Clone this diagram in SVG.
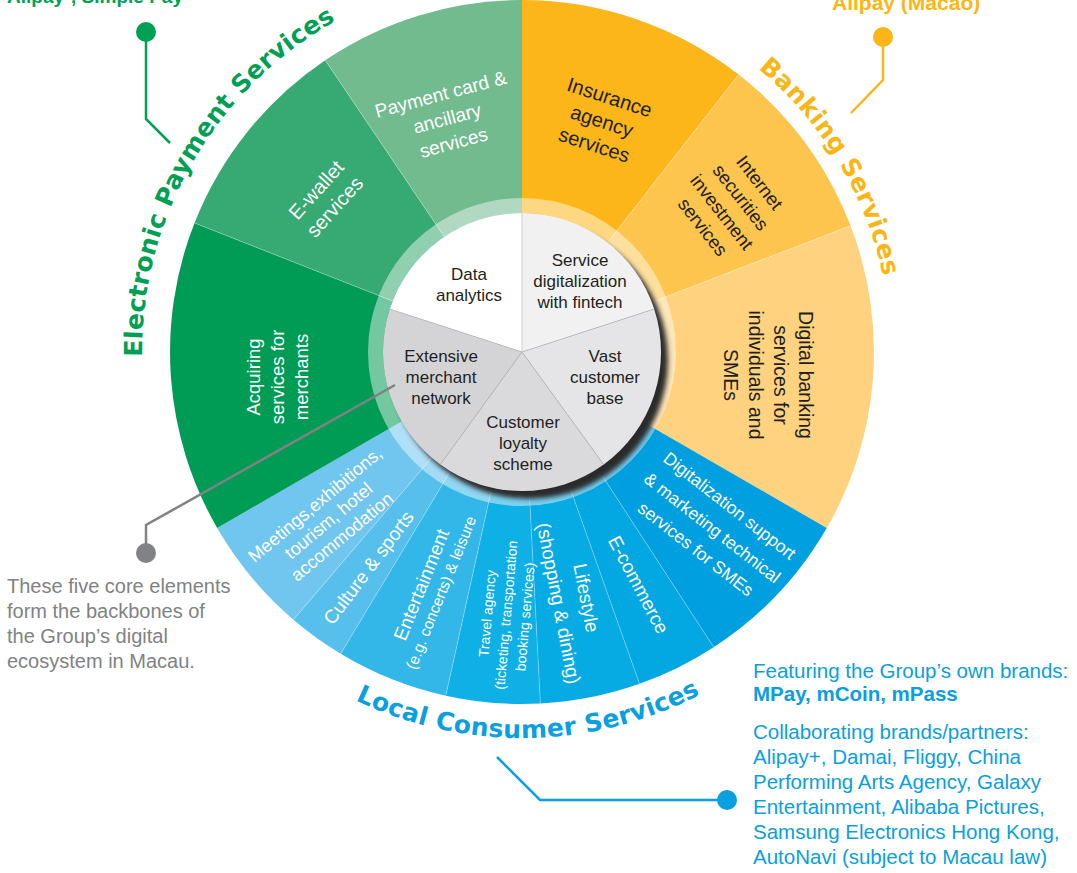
<svg xmlns="http://www.w3.org/2000/svg" width="1077" height="873" viewBox="0 0 1077 873">
<defs>
<filter id="sh" x="-20%" y="-20%" width="140%" height="140%"><feGaussianBlur stdDeviation="2.5"/></filter>
<path id="arcEPS" d="M192.9,542 A380,380 0 0 1 522,-28"/>
<path id="arcBS" d="M515.6,-16.9 A369,369 0 0 1 844.7,530.9"/>
<path id="arcLCS" d="M191.1,550.8 A386,386 0 0 0 859.6,539.1"/>
</defs>
<style>
text{font-family:'Liberation Sans',Arial,Helvetica,sans-serif;}
.w{fill:#ffffff;text-anchor:middle;}
.k{fill:#231f20;text-anchor:middle;}
.core{fill:#231f20;text-anchor:middle;font-size:17px;}
.title{font-family:'DejaVu Sans','Liberation Sans',sans-serif;font-weight:bold;font-size:25px;letter-spacing:0.3px;text-anchor:middle;}
.div{stroke:#ffffff;stroke-opacity:0.35;stroke-width:0.8;}
.cdiv{stroke:#bcbcbe;stroke-width:0.7;}
.call{fill:none;stroke-width:2.5;}
.gray{fill:#808285;font-size:20px;}
.blue{fill:#0a9fe0;font-size:20.5px;}
</style>

<g id="segments">
<path id="seg-insurance" d="M522,352 L522,0 A352,352 0 0 1 738.7,74.6 Z" fill="#fcb61a"/>
<path id="seg-internet" d="M522,352 L738.7,74.6 A352,352 0 0 1 850.6,225.8 Z" fill="#fdc54e"/>
<path id="seg-digitalbanking" d="M522,352 L850.6,225.8 A352,352 0 0 1 826.8,528 Z" fill="#fed27f"/>
<path id="seg-digitalization" d="M522,352 L826.8,528 A352,352 0 0 1 713.7,647.2 Z" fill="#00a0e0"/>
<path id="seg-ecommerce" d="M522,352 L713.7,647.2 A352,352 0 0 1 639.5,683.8 Z" fill="#03a7e2"/>
<path id="seg-lifestyle" d="M522,352 L639.5,683.8 A352,352 0 0 1 540.4,703.5 Z" fill="#07abe4"/>
<path id="seg-travel" d="M522,352 L540.4,703.5 A352,352 0 0 1 445.8,695.7 Z" fill="#0fb0e6"/>
<path id="seg-entertainment" d="M522,352 L445.8,695.7 A352,352 0 0 1 340.7,653.7 Z" fill="#33b6e8"/>
<path id="seg-culture" d="M522,352 L340.7,653.7 A352,352 0 0 1 293.4,619.7 Z" fill="#56bfeb"/>
<path id="seg-meetings" d="M522,352 L293.4,619.7 A352,352 0 0 1 217.2,528 Z" fill="#70c6ef"/>
<path id="seg-acquiring" d="M522,352 L217.2,528 A352,352 0 0 1 194.5,223 Z" fill="#009b55"/>
<path id="seg-ewallet" d="M522,352 L194.5,223 A352,352 0 0 1 325.2,60.2 Z" fill="#36aa72"/>
<path id="seg-paymentcard" d="M522,352 L325.2,60.2 A352,352 0 0 1 522,0 Z" fill="#71bb8e"/>
<g id="dividers">
<line class="div" x1="522" y1="352" x2="738.7" y2="74.6"/>
<line class="div" x1="522" y1="352" x2="850.6" y2="225.8"/>
<line class="div" x1="522" y1="352" x2="713.7" y2="647.2"/>
<line class="div" x1="522" y1="352" x2="639.5" y2="683.8"/>
<line class="div" x1="522" y1="352" x2="540.4" y2="703.5"/>
<line class="div" x1="522" y1="352" x2="445.8" y2="695.7"/>
<line class="div" x1="522" y1="352" x2="340.7" y2="653.7"/>
<line class="div" x1="522" y1="352" x2="293.4" y2="619.7"/>
<line class="div" x1="522" y1="352" x2="194.5" y2="223"/>
<line class="div" x1="522" y1="352" x2="325.2" y2="60.2"/>
</g>
<circle id="ring" cx="522" cy="352" r="146.5" fill="none" stroke="#ffffff" stroke-opacity="0.45" stroke-width="15"/>
</g>

<g id="core">
<circle cx="529" cy="360" r="139" fill="#2a2a2a" filter="url(#sh)"/>
<path id="core-service" d="M522,352 L522,213 A139,139 0 0 1 654.2,309.05 Z" fill="#f1f1f2"/>
<path id="core-vast" d="M522,352 L654.2,309.05 A139,139 0 0 1 603.7,464.5 Z" fill="#e5e5e7"/>
<path id="core-loyalty" d="M522,352 L603.7,464.5 A139,139 0 0 1 440.3,464.5 Z" fill="#dadadc"/>
<path id="core-extensive" d="M522,352 L440.3,464.5 A139,139 0 0 1 389.8,309.05 Z" fill="#d4d4d6"/>
<path id="core-data" d="M522,352 L389.8,309.05 A139,139 0 0 1 522,213 Z" fill="#ffffff"/>
<line class="cdiv" x1="522" y1="352" x2="522" y2="213"/>
<line class="cdiv" x1="522" y1="352" x2="654.2" y2="309.05"/>
<line class="cdiv" x1="522" y1="352" x2="603.7" y2="464.5"/>
<line class="cdiv" x1="522" y1="352" x2="440.3" y2="464.5"/>
<line class="cdiv" x1="522" y1="352" x2="389.8" y2="309.05"/>
<text class="core"><tspan x="469" y="280">Data</tspan><tspan x="469" y="301">analytics</tspan></text>
<text class="core"><tspan x="580" y="266">Service</tspan><tspan x="580" y="287">digitalization</tspan><tspan x="580" y="308">with fintech</tspan></text>
<text class="core"><tspan x="605" y="362">Vast</tspan><tspan x="605" y="383">customer</tspan><tspan x="605" y="404">base</tspan></text>
<text class="core"><tspan x="441" y="362">Extensive</tspan><tspan x="441" y="383">merchant</tspan><tspan x="441" y="404">network</tspan></text>
<text class="core"><tspan x="523" y="428">Customer</tspan><tspan x="523" y="449">loyalty</tspan><tspan x="523" y="470">scheme</tspan></text>
</g>

<g id="labels">
<g id="lbl-paymentcard" transform="translate(447,118) rotate(-15)"><text class="w" font-size="19"><tspan x="0" y="-18">Payment card &amp;</tspan><tspan x="0" y="7">ancillary</tspan><tspan x="0" y="32">services</tspan></text></g>
<g id="lbl-ewallet" transform="translate(325,198) rotate(-48)"><text class="w" font-size="20"><tspan x="0" y="-5">E-wallet</tspan><tspan x="0" y="20">services</tspan></text></g>
<g id="lbl-acquiring" transform="translate(278,377) rotate(-90)"><text class="w" font-size="18.5"><tspan x="0" y="-18">Acquiring</tspan><tspan x="0" y="6">services for</tspan><tspan x="0" y="30">merchants</tspan></text></g>
<g id="lbl-insurance" transform="translate(602,121) rotate(18)"><text class="k" font-size="20"><tspan x="0" y="-18">Insurance</tspan><tspan x="0" y="7">agency</tspan><tspan x="0" y="32">services</tspan></text></g>
<g id="lbl-internet" transform="translate(731,205) rotate(52)"><text class="k" font-size="18.5"><tspan x="0" y="-30">Internet</tspan><tspan x="0" y="-6">securities</tspan><tspan x="0" y="18">investment</tspan><tspan x="0" y="42">services</tspan></text></g>
<g id="lbl-digitalbanking" transform="translate(768,375) rotate(90)"><text class="k" font-size="19.5"><tspan x="0" y="-31">Digital banking</tspan><tspan x="0" y="-6">services for</tspan><tspan x="0" y="19">individuals and</tspan><tspan x="0" y="44">SMEs</tspan></text></g>
<g id="lbl-digitalization" transform="translate(713,527) rotate(38)"><text class="w" font-size="17.5"><tspan x="0" y="-21">Digitalization support</tspan><tspan x="0" y="7">&amp; marketing technical</tspan><tspan x="0" y="34">services for SMEs</tspan></text></g>
<g id="lbl-ecommerce" transform="translate(638,585) rotate(62)"><text class="w" font-size="19" x="0" y="6">E-commerce</text></g>
<g id="lbl-lifestyle" transform="translate(576,600) rotate(79)"><text class="w" font-size="19"><tspan x="0" y="-4">Lifestyle</tspan><tspan x="0" y="24">(shopping &amp; dining)</tspan></text></g>
<g id="lbl-travel" transform="translate(505,615) rotate(-85)"><text class="w" font-size="14"><tspan x="0" y="-13">Travel agency</tspan><tspan x="0" y="6">(ticketing, transportation</tspan><tspan x="0" y="25">booking services)</tspan></text></g>
<g id="lbl-entertainment" transform="translate(432,589) rotate(-68)"><text class="w"><tspan x="0" y="-5" font-size="19">Entertainment</tspan><tspan x="0" y="15" font-size="15.5">(e.g. concerts) &amp; leisure</tspan></text></g>
<g id="lbl-culture" transform="translate(369,568) rotate(-53)"><text class="w" font-size="19" x="0" y="6">Culture &amp; sports</text></g>
<g id="lbl-meetings" transform="translate(328,520) rotate(-40)"><text class="w" font-size="18"><tspan x="0" y="-14">Meetings,exhibitions,</tspan><tspan x="0" y="7">tourism, hotel</tspan><tspan x="0" y="28">accommodation</tspan></text></g>
</g>

<g id="titles">
<text class="title" fill="#00a054"><textPath href="#arcEPS" startOffset="50%">Electronic Payment Services</textPath></text>
<text class="title" fill="#fbb517"><textPath href="#arcBS" startOffset="50%">Banking Services</textPath></text>
<text class="title" fill="#0a9fe0"><textPath href="#arcLCS" startOffset="50%">Local Consumer Services</textPath></text>
</g>

<g id="connectors">
<polyline class="call" stroke="#00a054" points="146,32 146,119 170,143"/>
<polyline class="call" stroke="#fbb517" points="883,37 883,80 851,113"/>
<polyline class="call" stroke="#808285" points="146,553 146,525 395,385"/>
<polyline class="call" stroke="#0a9fe0" points="497,757 540,800 727,800"/>
</g>

<g id="callout-epay">
<circle cx="146" cy="32" r="10" fill="#00a054"/>
<text x="7" y="3" font-size="19" font-weight="bold" fill="#00a054">Alipay<tspan font-size="12" baseline-shift="super">+</tspan>, Simple Pay</text>
</g>
<g id="callout-banking">
<circle cx="883" cy="37" r="10" fill="#fbb517"/>
<text x="832" y="10" font-size="21" font-weight="bold" fill="#fbb517">Alipay (Macao)</text>
</g>
<g id="callout-core">
<circle cx="146" cy="553" r="10" fill="#808285"/>
<text class="gray"><tspan x="7" y="593">These five core elements</tspan><tspan x="7" y="618">form the backbones of</tspan><tspan x="7" y="643">the Group’s digital</tspan><tspan x="7" y="668">ecosystem in Macau.</tspan></text>
</g>
<g id="callout-local">
<circle cx="727" cy="800" r="10" fill="#0a9fe0"/>
<text class="blue"><tspan x="753" y="678">Featuring the Group’s own brands:</tspan><tspan x="753" y="701" font-weight="bold">MPay, mCoin, mPass</tspan><tspan x="753" y="739">Collaborating brands/partners:</tspan><tspan x="753" y="764">Alipay+, Damai, Fliggy, China</tspan><tspan x="753" y="789">Performing Arts Agency, Galaxy</tspan><tspan x="753" y="814">Entertainment, Alibaba Pictures,</tspan><tspan x="753" y="839">Samsung Electronics Hong Kong,</tspan><tspan x="753" y="864">AutoNavi (subject to Macau law)</tspan></text>
</g>
</svg>
